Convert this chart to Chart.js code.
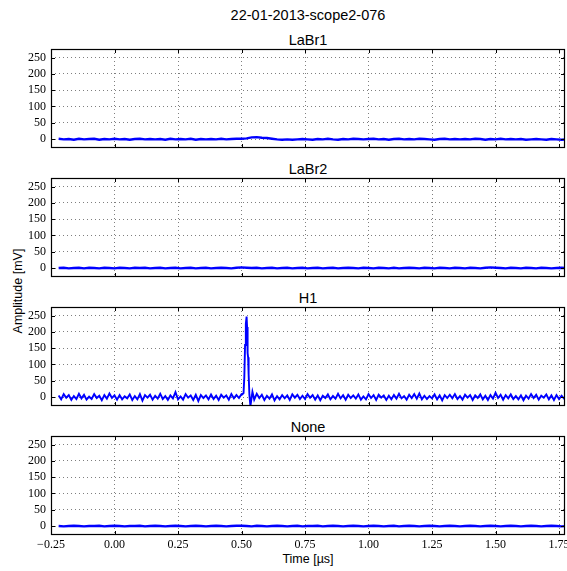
<!DOCTYPE html>
<html>
<head>
<meta charset="utf-8">
<script src="https://cdn.jsdelivr.net/npm/chart.js@4.4.1/dist/chart.umd.min.js"></script>
<style>
  html, body { margin: 0; padding: 0; background: #fff; overflow: hidden; width: 567px; height: 571px; }
  .panel { position: absolute; left: 0; }
  .txt { position: absolute; font-family: 'Liberation Sans', Arial, sans-serif; color: #000; white-space: nowrap; line-height: 1; }
</style>
</head>
<body>

<div class="txt" style="left:0; width:616px; text-align:center; top:8px; font-size:14.5px;">22-01-2013-scope2-076</div>
<div class="txt" id="t0" style="left:0; width:616px; text-align:center; font-size:14.5px;"></div>
<div class="txt" id="t1" style="left:0; width:616px; text-align:center; font-size:14.5px;"></div>
<div class="txt" id="t2" style="left:0; width:616px; text-align:center; font-size:14.5px;"></div>
<div class="txt" id="t3" style="left:0; width:616px; text-align:center; font-size:14.5px;"></div>
<div class="txt" style="left:0; width:616px; text-align:center; top:553px; font-size:12.5px;">Time [µs]</div>
<div class="txt" style="left:18px; top:291px; font-size:12.5px; transform: translate(-50%, -50%) rotate(-90deg);">Amplitude [mV]</div>

<canvas id="c0" class="panel"></canvas>
<canvas id="c1" class="panel"></canvas>
<canvas id="c2" class="panel"></canvas>
<canvas id="c3" class="panel"></canvas>

<script>
// channel names
var channels = ['LaBr1', 'LaBr2', 'H1', 'None'];

// tick labels
var xTicks = [-0.25, 0.00, 0.25, 0.50, 0.75, 1.00, 1.25, 1.50, 1.75];
var yTicks = [0, 50, 100, 150, 200, 250];

// sample times (µs) for the quiet channels
var timeCoarse = [
  -0.22,-0.20,-0.18,-0.16,-0.14,-0.12,-0.10,-0.08,-0.06,-0.04,
  -0.02,0.00,0.02,0.04,0.06,0.08,0.10,0.12,0.14,0.16,
  0.18,0.20,0.22,0.24,0.26,0.28,0.30,0.32,0.34,0.36,
  0.38,0.40,0.42,0.44,0.46,0.48,0.50,0.52,0.54,0.56,
  0.58,0.60,0.62,0.64,0.66,0.68,0.70,0.72,0.74,0.76,
  0.78,0.80,0.82,0.84,0.86,0.88,0.90,0.92,0.94,0.96,
  0.98,1.00,1.02,1.04,1.06,1.08,1.10,1.12,1.14,1.16,
  1.18,1.20,1.22,1.24,1.26,1.28,1.30,1.32,1.34,1.36,
  1.38,1.40,1.42,1.44,1.46,1.48,1.50,1.52,1.54,1.56,
  1.58,1.60,1.62,1.64,1.66,1.68,1.70,1.72,1.74,1.76,
  1.78
];

var labr1 = [
  1,-1,0,-2,1,-1,0,1,-2,0,
  -1,1,-1,0,-2,0,1,-1,0,-1,
  0,-2,1,-1,0,-1,1,-2,0,-1,
  0,-1,1,-1,0,1,1,2,5,6,
  4,3,1,-1,-2,-1,-2,-1,0,-1,
  -2,0,-1,1,-1,-2,0,-1,1,0,
  -1,0,1,-1,0,-2,0,1,-1,0,
  -1,1,0,-1,-2,0,1,-1,0,-1,
  0,-1,1,0,-2,0,-1,1,-1,0,
  -1,0,-2,-1,0,-1,-2,0,-1,-2,
  -1
];

var labr2 = [
  0,1,-1,0,1,-1,1,0,-1,1,
  0,-1,1,0,-1,1,0,1,-1,0,
  1,-1,0,1,-1,0,1,-1,0,1,
  -1,0,1,0,-1,1,2,1,0,1,
  -1,0,1,-1,0,1,-1,0,1,-1,
  0,1,-1,0,1,-1,0,1,0,-1,
  1,0,-1,1,0,-1,1,-1,0,1,
  0,-1,1,0,-1,1,0,-1,1,0,
  -1,1,0,-1,1,2,1,0,-1,1,
  0,-1,1,0,-1,1,0,-1,0,1,
  0
];

var none = [
  0,-1,0,1,0,-1,0,0,1,-1,
  0,1,0,-1,0,0,1,-1,0,1,
  0,-1,0,1,0,-1,0,1,0,-1,
  0,1,0,-1,0,1,1,0,-1,1,
  0,-1,0,1,0,-1,0,1,-1,0,
  0,1,-1,0,1,0,-1,0,1,0,
  -1,0,1,0,-1,0,1,-1,0,1,
  0,-1,0,1,0,-1,0,1,0,-1,
  0,1,0,-1,0,1,0,-1,0,1,
  0,-1,0,1,0,-1,0,1,0,-1,
  0
];

// sample times (µs) for H1, denser around the pulse
var timeFine = [
  -0.22,-0.21,-0.20,-0.19,-0.18,-0.17,-0.16,-0.15,-0.14,-0.13,
  -0.12,-0.11,-0.10,-0.09,-0.08,-0.07,-0.06,-0.05,-0.04,-0.03,
  -0.02,-0.01,0.00,0.01,0.02,0.03,0.04,0.05,0.06,0.07,
  0.08,0.09,0.10,0.11,0.12,0.13,0.14,0.15,0.16,0.17,
  0.18,0.19,0.20,0.21,0.22,0.23,0.24,0.25,0.26,0.27,
  0.28,0.29,0.30,0.31,0.32,0.33,0.34,0.35,0.36,0.37,
  0.38,0.39,0.40,0.41,0.42,0.43,0.44,0.45,0.46,0.47,
  0.48,0.49,0.50,
  0.503,0.508,0.511,0.514,0.517,0.520,0.522,0.524,0.526,0.528,
  0.531,0.535,0.539,0.543,0.547,
  0.55,0.56,0.57,0.58,0.59,0.60,0.61,0.62,0.63,0.64,
  0.65,0.66,0.67,0.68,0.69,0.70,0.71,0.72,0.73,0.74,
  0.75,0.76,0.77,0.78,0.79,0.80,0.81,0.82,0.83,0.84,
  0.85,0.86,0.87,0.88,0.89,0.90,0.91,0.92,0.93,0.94,
  0.95,0.96,0.97,0.98,0.99,1.00,1.01,1.02,1.03,1.04,
  1.05,1.06,1.07,1.08,1.09,1.10,1.11,1.12,1.13,1.14,
  1.15,1.16,1.17,1.18,1.19,1.20,1.21,1.22,1.23,1.24,
  1.25,1.26,1.27,1.28,1.29,1.30,1.31,1.32,1.33,1.34,
  1.35,1.36,1.37,1.38,1.39,1.40,1.41,1.42,1.43,1.44,
  1.45,1.46,1.47,1.48,1.49,1.50,1.51,1.52,1.53,1.54,
  1.55,1.56,1.57,1.58,1.59,1.60,1.61,1.62,1.63,1.64,
  1.65,1.66,1.67,1.68,1.69,1.70,1.71,1.72,1.73,1.74,
  1.75,1.76,1.77,1.78
];

var h1 = [
  5,-7,9,-2,6,-9,3,-6,10,-4,
  7,-8,1,-6,9,-3,4,-10,6,-5,
  11,-3,5,-8,6,-7,2,-4,8,-9,
  3,-7,9,-11,6,-2,7,-8,4,-5,
  10,-6,3,-9,5,-4,15,-7,2,-8,
  9,-2,5,-9,7,-12,6,-3,5,-7,
  8,-6,4,-9,7,-2,5,-8,9,-4,
  6,-3,9,
  8,12,60,160,225,247,215,135,122,70,
  8,-28,-6,16,3,
  -8,10,-3,7,-9,4,-5,8,-10,3,
  -7,6,-4,5,-9,8,-2,7,-6,4,
  -6,9,-2,6,-8,5,-10,4,-3,8,
  -7,3,-5,10,-4,6,-8,7,-3,5,
  -5,8,-8,2,-7,9,-3,6,-9,7,
  -2,5,-9,4,-7,6,-5,10,-4,3,
  -8,7,-3,9,-5,11,-7,4,-6,3,
  -4,8,-7,5,-10,6,-3,7,-4,9,
  -6,3,-8,7,-2,6,-9,5,-3,8,
  -7,4,-9,6,-5,13,-3,7,-8,6,
  -4,8,-6,3,-7,5,-10,4,-5,9,
  -3,7,-8,4,-2,8,-7,5,-9,6,
  -6,4,-5,3
];

var traces = [
  { t: timeCoarse, v: labr1 },
  { t: timeCoarse, v: labr2 },
  { t: timeFine, v: h1 },
  { t: timeCoarse, v: none }
];

var plotTops = [49, 178, 307, 436];
var plotH = 99;
var plotLeft = 51;
var plotRight = 565;
var canvasW = 600;
var pad = 15;
var xAxisH = 22;

function fmt(v) {
  return v.toFixed(2).replace('-', '\u2212');
}

// solid frame with inward tick marks, matplotlib classic style
var framePlugin = {
  id: 'frame',
  afterDraw: function(chart) {
    var ctx = chart.ctx, a = chart.chartArea;
    var xs = chart.scales.x, ys = chart.scales.y;
    ctx.save();
    ctx.strokeStyle = '#000';
    ctx.lineWidth = 1;
    ctx.beginPath();
    xTicks.forEach(function(v) {
      var px = Math.round(xs.getPixelForValue(v)) + 0.5;
      ctx.moveTo(px, a.bottom); ctx.lineTo(px, a.bottom - 4);
      ctx.moveTo(px, a.top); ctx.lineTo(px, a.top + 4);
    });
    yTicks.forEach(function(v) {
      var py = Math.round(ys.getPixelForValue(v)) + 0.5;
      ctx.moveTo(a.left, py); ctx.lineTo(a.left + 4, py);
      ctx.moveTo(a.right, py); ctx.lineTo(a.right - 4, py);
    });
    ctx.stroke();
    ctx.lineWidth = 1.2;
    ctx.strokeRect(Math.round(a.left) + 0.5, Math.round(a.top) + 0.5,
                   Math.round(a.width) - 1, Math.round(a.height) - 1);
    ctx.restore();
  }
};

channels.forEach(function(name, i) {
  var last = i === channels.length - 1;
  var cv = document.getElementById('c' + i);
  var h = pad + plotH + (last ? xAxisH : pad);
  cv.style.top = (plotTops[i] - pad) + 'px';
  cv.style.width = canvasW + 'px';
  cv.style.height = h + 'px';
  cv.width = canvasW;
  cv.height = h;

  var title = document.getElementById('t' + i);
  title.textContent = name;
  title.style.top = (plotTops[i] - 16) + 'px';

  var tr = traces[i];
  var pts = tr.t.map(function(t, k) { return { x: t, y: tr.v[k] }; });

  new Chart(cv, {
    type: 'line',
    data: {
      datasets: [{
        data: pts,
        borderColor: '#0000ff',
        borderWidth: name === 'H1' ? 1.9 : 2.4,
        pointRadius: 0,
        tension: 0,
        fill: false
      }]
    },
    options: {
      responsive: false,
      animation: false,
      events: [],
      layout: { padding: { left: 0, top: pad, right: canvasW - plotRight, bottom: last ? 0 : pad } },
      plugins: { legend: { display: false }, tooltip: { enabled: false }, title: { display: false } },
      scales: {
        x: {
          type: 'linear',
          min: -0.25,
          max: 1.7735,
          afterBuildTicks: function(s) { s.ticks = xTicks.map(function(v) { return { value: v }; }); },
          afterFit: function(s) { s.height = last ? xAxisH : 0; },
          grid: { color: 'rgba(0,0,0,0.5)', lineWidth: 1, drawTicks: false },
          border: { display: false, dash: [1, 3] },
          ticks: {
            display: last,
            padding: 3,
            maxRotation: 0,
            autoSkip: false,
            color: '#000',
            font: { family: "'Liberation Serif', 'DejaVu Serif', serif", size: 12 },
            callback: function(v) { return fmt(v); }
          }
        },
        y: {
          min: -27.5,
          max: 276.5,
          afterBuildTicks: function(s) { s.ticks = yTicks.map(function(v) { return { value: v }; }); },
          afterFit: function(s) { s.width = plotLeft; },
          grid: { color: 'rgba(0,0,0,0.5)', lineWidth: 1, drawTicks: false },
          border: { display: false, dash: [1, 3] },
          ticks: {
            padding: 5,
            color: '#000',
            font: { family: "'Liberation Serif', 'DejaVu Serif', serif", size: 12 },
            callback: function(v) { return String(v); }
          }
        }
      }
    },
    plugins: [framePlugin]
  });
});
</script>
</body>
</html>
